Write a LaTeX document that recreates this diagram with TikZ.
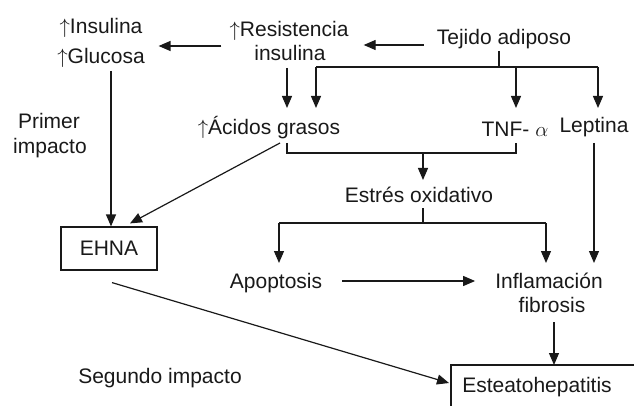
\documentclass[tikz,border=0pt]{standalone}
\usepackage{fontspec}
\setmainfont{Liberation Sans}
\usetikzlibrary{arrows.meta,calc}
\begin{document}
\begin{tikzpicture}[x=1pt,y=-1pt,
  txt/.style={font=\fontsize{21}{25}\selectfont,inner sep=0pt,anchor=base,text=black!90},
  ln/.style={line width=1.2pt,draw=black!90},
  arr/.style={ln,-{Triangle[length=12pt,width=10pt]}},
  boxed/.style={draw=black!90,line width=1.2pt,font=\fontsize{21}{25}\selectfont,text=black!90,minimum width=96pt,minimum height=43pt,inner sep=0pt}]
\useasboundingbox (0,0) rectangle (634,406);
\clip (0,0) rectangle (634,406);
% nodes
\node[txt] (ins) at (101,34) {$\uparrow$Insulina};
\node[txt] (glu) at (101,64) {$\uparrow$Glucosa};
\node[txt] (res) at (289,37) {$\uparrow$Resistencia};
\node[txt] (resi) at (290,61) {insulina};
\node[txt] (tej) at (504,45) {Tejido adiposo};
\node[txt] (aci) at (269,135) {$\uparrow$Ácidos grasos};
\node[txt] (tnf) at (515,137) {TNF- $\alpha$};
\node[txt] (lep) at (594,133) {Leptina};
\node[txt] (est) at (419,202) {Estrés oxidativo};
\node[txt] (apo) at (276,288) {Apoptosis};
\node[txt] (inf) at (549,288) {Inflamación};
\node[txt] (fib) at (552,312) {fibrosis};
\node[txt] (pri) at (49,129) {Primer};
\node[txt] (imp) at (50,154) {impacto};
\node[txt] (seg) at (160,383) {Segundo impacto};
\node[boxed] (ehna) at (109,248.5) {EHNA};
\node[txt] (esth) at (537,392) {Esteatohepatitis};
\coordinate (boxtl) at (451,365);
\draw[ln] (boxtl |- 0,420) -- (boxtl) -- (650,365);
% top arrows
\draw[arr] ([xshift=-13pt]tej.west |- tej.base) ++(0,0) coordinate (t0) -- ([xshift=15pt]res.east |- t0);
\coordinate (r0) at ([xshift=-8pt,yshift=-9pt]res.base west);
\draw[arr] (r0) -- ([xshift=16pt]ins.east |- r0);
% tejido branch
\coordinate (tj) at ([xshift=-5pt,yshift=-22pt]tej.base);
\coordinate (tl) at (316,67);
\coordinate (tm) at (516,67);
\coordinate (tr) at (598,67);
\draw[ln] ([xshift=-5pt,yshift=-6pt]tej.base) -- (tj);
\draw[ln] (tl) -- (tr);
\draw[arr] (tl) -- ([yshift=27pt]aci.base -| tl);
\draw[arr] (tm) -- ([yshift=29pt]tnf.base -| tm);
\draw[arr] (tr) -- ([yshift=25pt]lep.base -| tr);
% resistencia down
\coordinate (rd) at ([xshift=-3pt,yshift=-7pt]resi.base);
\draw[arr] (rd) -- ([yshift=27pt]aci.base -| rd);
% bracket acidos / tnf
\coordinate (al) at (287,153);
\coordinate (ar) at (516,153);
\coordinate (am) at (423,153);
\draw[ln] ([yshift=-8pt]aci.base -| al) -- (al) -- (ar) -- ([yshift=-6pt]tnf.base -| ar);
\draw[arr] (am) -- ([yshift=22pt]est.base -| am);
% acidos -> EHNA
\draw[arr] ([shift={(11pt,-8pt)}]aci.base) -- ([shift={(21pt,3pt)}]ehna.north);
% glucosa -> EHNA
\coordinate (g0) at ([xshift=10pt,yshift=-7pt]glu.base);
\draw[arr] (g0) -- (g0 |- ehna.north);
% estres branch
\coordinate (el) at (279,223);
\coordinate (er) at (546,223);
\draw[ln] ([xshift=4pt,yshift=-6pt]est.base) -- ([xshift=4pt]est.base |- el);
\draw[ln] (el) -- (er);
\draw[arr] (el) -- ([yshift=25pt]apo.base -| el);
\draw[arr] (er) -- ([yshift=25pt]inf.base -| er);
% leptina -> inflamacion
\coordinate (l0) at ([yshift=-10pt]lep.base);
\draw[arr] (l0) -- ([yshift=25pt]inf.base -| l0);
% apoptosis -> inflamacion
\coordinate (a0) at ([xshift=20pt,yshift=7pt]apo.base east);
\draw[arr] (a0) -- ([xshift=-20pt]inf.west |- a0);
% fibrosis -> esteatohepatitis
\coordinate (f0) at ([xshift=2pt,yshift=-10pt]fib.base);
\draw[arr] (f0) -- (f0 |- boxtl);
% EHNA -> esteatohepatitis
\draw[arr] ([shift={(3pt,-12pt)}]ehna.south) -- ([shift={(-2pt,-18pt)}]boxtl);
\end{tikzpicture}
\end{document}
